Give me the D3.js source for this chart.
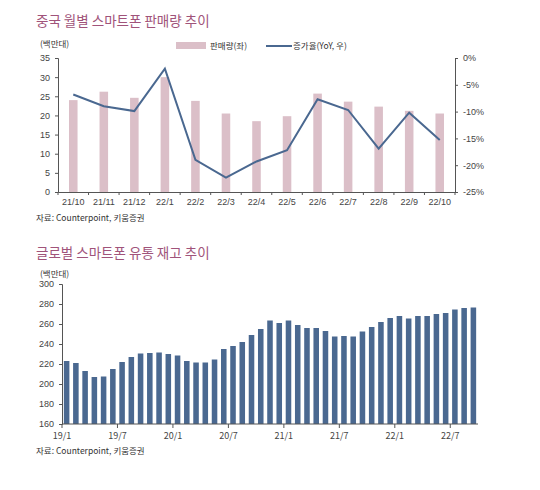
<!DOCTYPE html>
<html><head><meta charset="utf-8">
<script src="https://cdn.jsdelivr.net/npm/d3@7"></script>
<style>
body{margin:0;background:#fff;font-family:"Noto Sans CJK KR","Noto Sans",sans-serif;}
text{fill:#333;}
</style></head>
<body><svg id="c" width="540" height="490"></svg>
<script>
// chart 1: China monthly smartphone sales
var months1 = ["21/10","21/11","21/12","22/1","22/2","22/3","22/4","22/5","22/6","22/7","22/8","22/9","22/10"];
var sales = [24,26.2,24.6,30,23.8,20.5,18.5,19.8,25.7,23.6,22.3,21.2,20.5];
var yoy = [-6.8,-9,-9.9,-2,-19,-22.3,-19.3,-17.2,-7.7,-9.7,-16.9,-10.2,-15.3];
// chart 2: global channel inventory
var months2 = [];
for (var yr = 19; yr <= 22; yr++) for (var m = 1; m <= 12; m++) if (months2.length < 45) months2.push(yr + "/" + m);
var inventory = [223,221,213,207,207.5,215,222,227,230.5,231,231.5,230,228.5,223,221.5,221.5,224.5,235,238,242,
  249,255,263.5,261,263.5,259,256,256,253,247.5,248,247.5,252.5,257,262,266,268,265.5,268,268,270,271,274.5,276,276.5];
var tickLabels2 = ["19/1","19/7","20/1","20/7","21/1","21/7","22/1","22/7"];

var svg = d3.select("#c");
var titleColor = "#a0537a", axisColor = "#555";

function title(y, t){
  svg.append("text").attr("x",36).attr("y",y).attr("font-size",13.5).style("fill",titleColor).text(t);
}
function note(x, y, t, size){
  svg.append("text").attr("x",x).attr("y",y).attr("font-size",size||8.5).text(t);
}
function styleAxis(g){
  g.selectAll("path,line").attr("stroke",axisColor);
  g.selectAll("text").attr("font-size",9).style("fill","#444");
}

// ---- chart 1
title(26,"중국 월별 스마트폰 판매량 추이");
note(40,47,"(백만대)");
var x1 = d3.scaleBand().domain(months1).range([58,455]).paddingInner(0.72).paddingOuter(0.36);
var y1 = d3.scaleLinear().domain([0,35]).range([192,58]);
var y1r = d3.scaleLinear().domain([-25,0]).range([192,58]);

svg.selectAll(".b1").data(sales).enter().append("rect")
  .attr("x",(d,i)=>x1(months1[i])).attr("width",x1.bandwidth())
  .attr("y",d=>y1(d)).attr("height",d=>y1(0)-y1(d)).attr("fill","#dbbfc8");

svg.append("g").attr("transform","translate(58,0)").call(d3.axisLeft(y1).ticks(7).tickSize(3).tickPadding(5)).call(styleAxis);
svg.append("g").attr("transform","translate(455,0)").call(d3.axisRight(y1r).ticks(5).tickFormat(d=>d+"%").tickSize(3).tickPadding(5)).call(styleAxis);
svg.append("g").attr("transform","translate(0,192)").call(d3.axisBottom(x1).tickSize(0).tickPadding(7)).call(styleAxis)
  .call(g=>g.selectAll(".tick line").remove());
svg.append("g").selectAll("line").data(d3.range(months1.length+1)).enter().append("line")
  .attr("x1",i=>58+i*(397/13)).attr("x2",i=>58+i*(397/13)).attr("y1",192).attr("y2",195).attr("stroke",axisColor);

svg.append("path").datum(yoy)
  .attr("d",d3.line().x((d,i)=>x1(months1[i])+x1.bandwidth()/2).y(d=>y1r(d)))
  .attr("fill","none").attr("stroke","#4a6890").attr("stroke-width",2);

// legend
svg.append("rect").attr("x",176).attr("y",42).attr("width",30).attr("height",7).attr("fill","#dbbfc8");
note(210,49,"판매량(좌)");
svg.append("line").attr("x1",266).attr("x2",292).attr("y1",46).attr("y2",46).attr("stroke","#4a6890").attr("stroke-width",2);
note(293,49,"증가율(YoY, 우)");
note(36,221,"자료: Counterpoint, 키움증권");

// ---- chart 2
title(258,"글로벌 스마트폰 유통 재고 추이");
note(40,277,"(백만대)");
var x2 = d3.scaleBand().domain(months2).range([62,478]).paddingInner(0.4).paddingOuter(0.2);
var y2 = d3.scaleLinear().domain([160,300]).range([424,284]);
svg.selectAll(".b2").data(inventory).enter().append("rect")
  .attr("x",(d,i)=>x2(months2[i])).attr("width",x2.bandwidth())
  .attr("y",d=>y2(d)).attr("height",d=>y2(160)-y2(d)).attr("fill","#4a6890");
svg.append("g").attr("transform","translate(62,0)").call(d3.axisLeft(y2).ticks(7).tickSize(3).tickPadding(5)).call(styleAxis);
var step = x2.step();
var g2 = svg.append("g").attr("transform","translate(0,424)");
g2.append("line").attr("x1",62).attr("x2",478).attr("stroke",axisColor);
tickLabels2.forEach(function(t){
  var xx = 62 + months2.indexOf(t)*step;
  g2.append("line").attr("x1",xx).attr("x2",xx).attr("y1",0).attr("y2",4).attr("stroke",axisColor);
  g2.append("text").attr("x",xx).attr("y",15).attr("text-anchor","middle").attr("font-size",9).style("fill","#444").text(t);
});
note(36,454,"자료: Counterpoint, 키움증권");
</script></body></html>
